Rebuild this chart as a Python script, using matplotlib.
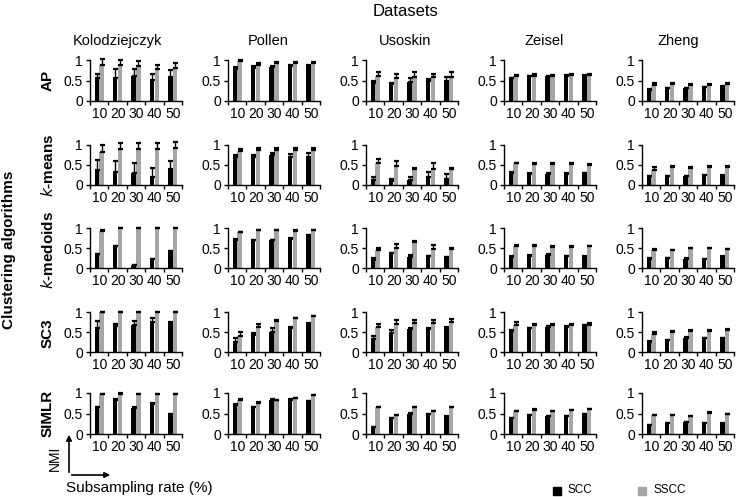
import matplotlib
matplotlib.use("Agg")
import matplotlib.pyplot as plt
import numpy as np

plt.rcParams['font.family'] = ['Liberation Sans', 'DejaVu Sans']

datasets = ["Kolodziejczyk", "Pollen", "Usoskin", "Zeisel", "Zheng"]
rates = ["10", "20", "30", "40", "50"]
algo_labels = ["AP", "$\\mathit{k}$-means", "$\\mathit{k}$-medoids", "SC3", "SIMLR"]

# NMI means and (upper) error bars, one row per dataset, one column per rate
ap_scc = [[0.57, 0.55, 0.61, 0.51, 0.59], [0.78, 0.80, 0.84, 0.86, 0.86],
          [0.45, 0.41, 0.46, 0.48, 0.48], [0.55, 0.60, 0.60, 0.62, 0.62],
          [0.28, 0.31, 0.31, 0.34, 0.35]]
ap_scc_err = [[0.10, 0.22, 0.17, 0.16, 0.16], [0.06, 0.05, 0.01, 0.01, 0.01],
              [0.03, 0.03, 0.10, 0.06, 0.10], [0.02, 0.01, 0.01, 0.01, 0.01],
              [0.02, 0.01, 0.01, 0.01, 0.01]]
ap_sscc = [[0.89, 0.87, 0.85, 0.78, 0.80], [0.98, 0.88, 0.93, 0.93, 0.92],
           [0.60, 0.57, 0.58, 0.58, 0.58], [0.60, 0.62, 0.61, 0.63, 0.63],
           [0.40, 0.41, 0.38, 0.39, 0.41]]
ap_sscc_err = [[0.13, 0.12, 0.12, 0.10, 0.12], [0.03, 0.05, 0.03, 0.03, 0.04],
               [0.10, 0.08, 0.12, 0.08, 0.12], [0.04, 0.03, 0.03, 0.03, 0.03],
               [0.05, 0.04, 0.04, 0.03, 0.04]]

km_scc = [[0.37, 0.33, 0.31, 0.21, 0.39], [0.69, 0.69, 0.75, 0.71, 0.71],
          [0.13, 0.10, 0.13, 0.19, 0.16], [0.31, 0.27, 0.27, 0.28, 0.29],
          [0.22, 0.22, 0.22, 0.24, 0.23]]
km_scc_err = [[0.25, 0.27, 0.25, 0.21, 0.21], [0.06, 0.05, 0.06, 0.07, 0.09],
              [0.06, 0.04, 0.07, 0.13, 0.11], [0.01, 0.02, 0.02, 0.01, 0.01],
              [0.01, 0.01, 0.01, 0.01, 0.01]]
km_sscc = [[0.83, 0.90, 0.90, 0.90, 0.93], [0.86, 0.87, 0.88, 0.88, 0.88],
           [0.55, 0.47, 0.39, 0.41, 0.39], [0.54, 0.53, 0.52, 0.52, 0.51],
           [0.38, 0.45, 0.42, 0.46, 0.45]]
km_sscc_err = [[0.18, 0.15, 0.15, 0.15, 0.14], [0.03, 0.06, 0.05, 0.04, 0.04],
               [0.10, 0.12, 0.03, 0.14, 0.03], [0.02, 0.03, 0.02, 0.02, 0.02],
               [0.08, 0.03, 0.03, 0.02, 0.03]]

kmed_scc = [[0.35, 0.54, 0.08, 0.22, 0.43], [0.70, 0.69, 0.69, 0.73, 0.82],
            [0.21, 0.37, 0.27, 0.29, 0.27], [0.28, 0.31, 0.33, 0.30, 0.28],
            [0.23, 0.25, 0.23, 0.22, 0.28]]
kmed_scc_err = [[0.0, 0.0, 0.0, 0.0, 0.0], [0.02, 0.01, 0.01, 0.01, 0.01],
                [0.04, 0.01, 0.05, 0.01, 0.01], [0.01, 0.01, 0.01, 0.01, 0.01],
                [0.01, 0.01, 0.01, 0.01, 0.01]]
kmed_sscc = [[0.93, 1.0, 1.0, 1.0, 1.0], [0.90, 0.94, 0.94, 0.93, 0.94],
             [0.46, 0.50, 0.64, 0.47, 0.48], [0.56, 0.56, 0.53, 0.53, 0.55],
             [0.46, 0.45, 0.49, 0.49, 0.47]]
kmed_sscc_err = [[0.01, 0.005, 0.005, 0.005, 0.005], [0.01, 0.01, 0.01, 0.02, 0.02],
                 [0.05, 0.09, 0.03, 0.10, 0.02], [0.01, 0.01, 0.01, 0.01, 0.01],
                 [0.01, 0.01, 0.01, 0.01, 0.01]]

sc3_scc = [[0.61, 0.65, 0.68, 0.74, 0.70], [0.25, 0.42, 0.51, 0.61, 0.69],
           [0.33, 0.47, 0.57, 0.57, 0.59], [0.52, 0.59, 0.63, 0.63, 0.67],
           [0.25, 0.30, 0.36, 0.35, 0.35]]
sc3_scc_err = [[0.17, 0.05, 0.09, 0.11, 0.06], [0.10, 0.06, 0.08, 0.02, 0.03],
               [0.07, 0.09, 0.04, 0.04, 0.03], [0.03, 0.01, 0.01, 0.01, 0.01],
               [0.02, 0.01, 0.01, 0.01, 0.01]]
sc3_sscc = [[1.0, 1.0, 1.0, 1.0, 1.0], [0.41, 0.63, 0.77, 0.85, 0.90],
            [0.63, 0.71, 0.73, 0.73, 0.75], [0.67, 0.67, 0.67, 0.67, 0.68],
            [0.44, 0.50, 0.52, 0.52, 0.55]]
sc3_sscc_err = [[0.005, 0.005, 0.005, 0.005, 0.005], [0.08, 0.07, 0.02, 0.01, 0.01],
                [0.08, 0.08, 0.07, 0.08, 0.08], [0.07, 0.04, 0.03, 0.04, 0.04],
                [0.05, 0.02, 0.02, 0.02, 0.02]]

simlr_scc = [[0.66, 0.84, 0.64, 0.74, 0.48], [0.70, 0.66, 0.84, 0.84, 0.80],
             [0.16, 0.38, 0.50, 0.48, 0.42], [0.38, 0.46, 0.44, 0.44, 0.48],
             [0.21, 0.26, 0.29, 0.26, 0.25]]
simlr_scc_err = [[0.01, 0.01, 0.01, 0.01, 0.01], [0.02, 0.01, 0.01, 0.01, 0.01],
                 [0.01, 0.01, 0.01, 0.01, 0.01], [0.01, 0.01, 0.01, 0.01, 0.01],
                 [0.01, 0.01, 0.01, 0.01, 0.01]]
simlr_sscc = [[0.97, 0.98, 0.97, 0.97, 0.97], [0.84, 0.76, 0.82, 0.87, 0.94],
              [0.66, 0.46, 0.65, 0.56, 0.66], [0.56, 0.59, 0.56, 0.58, 0.60],
              [0.46, 0.46, 0.44, 0.52, 0.49]]
simlr_sscc_err = [[0.01, 0.01, 0.01, 0.01, 0.01], [0.01, 0.01, 0.01, 0.01, 0.01],
                  [0.01, 0.01, 0.01, 0.01, 0.01], [0.01, 0.01, 0.01, 0.01, 0.01],
                  [0.01, 0.01, 0.01, 0.01, 0.01]]

scc_all = [ap_scc, km_scc, kmed_scc, sc3_scc, simlr_scc]
scc_err_all = [ap_scc_err, km_scc_err, kmed_scc_err, sc3_scc_err, simlr_scc_err]
sscc_all = [ap_sscc, km_sscc, kmed_sscc, sc3_sscc, simlr_sscc]
sscc_err_all = [ap_sscc_err, km_sscc_err, kmed_sscc_err, sc3_sscc_err, simlr_sscc_err]

W, H = 736, 497
SCC_COLOR = 'black'
SSCC_COLOR = '#a6a6a6'


def fx(px):
    return px / W


def fy(py):
    return 1 - py / H


def draw_panel(ax, scc, scc_err, sscc, sscc_err):
    x = np.arange(len(rates)) + 0.5
    bw = 0.24
    ax.bar(x - 0.13, scc, bw, color=SCC_COLOR)
    ax.bar(x + 0.13, sscc, bw, color=SSCC_COLOR)
    for off, m, e in [(-0.13, scc, scc_err), (0.13, sscc, sscc_err)]:
        eb = ax.errorbar(x + off, m, yerr=[np.zeros(len(m)), e], fmt='none',
                         ecolor='black', elinewidth=1, capsize=1.8, capthick=1.6)
        for art in list(eb.lines[1]) + list(eb.lines[2]):
            art.set_clip_on(False)
    ax.set_xlim(0, 5)
    ax.set_ylim(0, 1)
    for s in ['top', 'right']:
        ax.spines[s].set_visible(False)
    for s in ['left', 'bottom']:
        ax.spines[s].set_linewidth(1)
    ax.set_yticks([0, 0.5, 1])
    ax.set_yticklabels(['0', '0.5', '1'], fontsize=10)
    ax.set_xticks(np.arange(6))
    ax.set_xticklabels([])
    ax.set_xticks(x, minor=True)
    ax.set_xticklabels(rates, minor=True, fontsize=10)
    ax.tick_params(axis='x', which='major', direction='out', length=3, width=1)
    ax.tick_params(axis='x', which='minor', length=0, pad=4)
    ax.tick_params(axis='y', direction='out', length=3, width=1, pad=2)


def main():
    fig = plt.figure(figsize=(W / 100, H / 100), dpi=100)
    col_left = [90, 228, 366, 504, 642]
    row_top = [60, 145, 228, 312, 393]
    row_zero = [101, 185, 268, 352, 434]
    for r in range(5):
        for c in range(5):
            ax = fig.add_axes([fx(col_left[c]), fy(row_zero[r]), fx(92),
                               (row_zero[r] - row_top[r]) / H])
            draw_panel(ax, scc_all[r][c], scc_err_all[r][c],
                       sscc_all[r][c], sscc_err_all[r][c])

    # titles
    fig.text(fx(405), fy(11), "Datasets", ha='center', va='center', fontsize=12)
    title_x = [117, 268, 405, 544, 678]
    for c, name in enumerate(datasets):
        fig.text(fx(title_x[c]), fy(41), name, ha='center', va='center', fontsize=10.5)
    row_center = [80, 165, 250, 333, 413]
    for r, lab in enumerate(algo_labels):
        fig.text(fx(48), fy(row_center[r]), lab, ha='center', va='center',
                 rotation=90, fontsize=11, fontweight='bold')
    fig.text(fx(9), fy(250), "Clustering algorithms", ha='center', va='center',
             rotation=90, fontsize=11, fontweight='bold')

    # axis key arrows
    fig.add_artist(matplotlib.patches.FancyArrowPatch(
        (fx(69), fy(475)), (fx(69), fy(432)), transform=fig.transFigure,
        arrowstyle='-|>', mutation_scale=8, color='black', lw=1.2))
    fig.add_artist(matplotlib.patches.FancyArrowPatch(
        (fx(69), fy(475)), (fx(113), fy(475)), transform=fig.transFigure,
        arrowstyle='-|>', mutation_scale=8, color='black', lw=1.2))
    fig.text(fx(55), fy(458), "NMI", ha='center', va='center', rotation=90, fontsize=10)
    fig.text(fx(66), fy(488), "Subsampling rate (%)", ha='left', va='center', fontsize=11)

    # legend
    fig.add_artist(matplotlib.patches.Rectangle((fx(553), fy(495)), fx(8), 8 / H,
                                                transform=fig.transFigure, color=SCC_COLOR))
    fig.text(fx(567), fy(490), "SCC", ha='left', va='center', fontsize=8.5)
    fig.add_artist(matplotlib.patches.Rectangle((fx(638), fy(495)), fx(8), 8 / H,
                                                transform=fig.transFigure, color=SSCC_COLOR))
    fig.text(fx(653), fy(490), "SSCC", ha='left', va='center', fontsize=8.5)

    fig.savefig("out.png", dpi=100)


if __name__ == '__main__':
    main()
